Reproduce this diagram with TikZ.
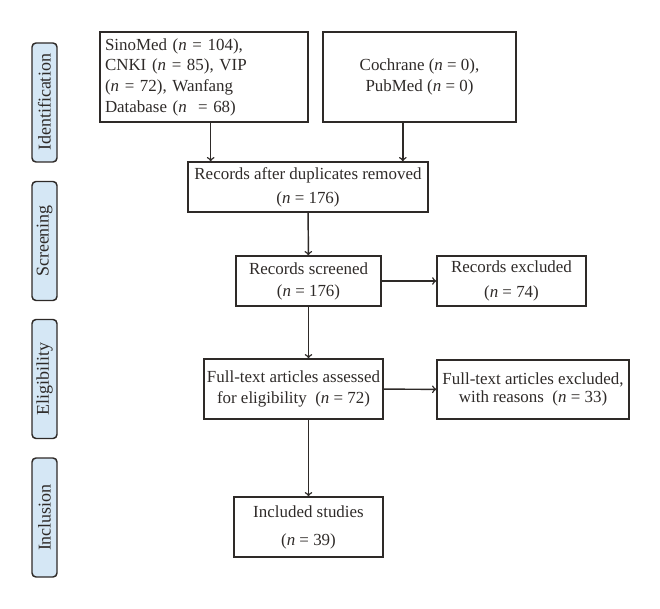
\documentclass[tikz,border=0pt]{standalone}
\usepackage{fontspec}
\setmainfont{Liberation Serif}
\usepackage{tikz}
\usetikzlibrary{arrows}

\definecolor{tabblue}{HTML}{D5E7F5}
\definecolor{linegray}{HTML}{2E2A28}

\begin{document}
\begin{tikzpicture}[x=0.75pt,y=-0.75pt,
  every node/.style={font=\fontsize{12.7}{15.5}\selectfont, text=linegray},
  box/.style={draw=linegray, line width=1.1pt, align=center, inner sep=2pt},
  stage/.style={draw=linegray, fill=tabblue, line width=1.1pt, rounded corners=3pt,
    minimum width=119*0.75pt, minimum height=25*0.75pt, rotate=90, inner sep=0pt,
    font=\fontsize{13.5}{15}\selectfont},
  flow/.style={->, line width=1.1pt, draw=linegray}]
\useasboundingbox (0,0) rectangle (660,609);

% stage tabs
\node[stage] (ident) at (44.5,102.5) {Identification};
\node[stage] (screen) at (44.5,241) {Screening};
\node[stage] (elig) at (44.5,379) {Eligibility};
\node[stage] (inclu) at (44.5,517.5) {Inclusion};

% boxes
\node[box, align=left, text width=198*0.75pt, inner xsep=3.75pt, minimum height=90*0.75pt] (src) at (204,77)
  {SinoMed (\textit{n} = 104),\\CNKI (\textit{n} = 85), VIP\\(\textit{n} = 72), Wanfang\\Database (\textit{n} \ = 68)};
\node[box, minimum width=193*0.75pt, minimum height=90*0.75pt] (coch) at (419.5,77)
  {Cochrane (\textit{n} = 0),\\PubMed (\textit{n} = 0)};
\node[box, minimum width=240*0.75pt, minimum height=50*0.75pt] (dup) at (308,187)
  {Records after duplicates removed\\[2.5pt](\textit{n} = 176)};
\node[box, minimum width=145*0.75pt, minimum height=50*0.75pt] (scr) at (308.5,281)
  {Records screened\\[1pt](\textit{n} = 176)};
\node[box, minimum width=149*0.75pt, minimum height=50*0.75pt] (exc) at (511.5,281)
  {Records excluded\\[3pt](\textit{n} = 74)};
\node[box, minimum width=179*0.75pt, minimum height=60*0.75pt] (full) at (293.5,389)
  {Full-text articles assessed\\for eligibility \ (\textit{n} = 72)};
\node[box, minimum width=192*0.75pt, minimum height=59*0.75pt] (fexc) at (533,389.5)
  {Full-text articles excluded,\\[-2.5pt]with reasons \ (\textit{n} = 33)};
\node[box, minimum width=149*0.75pt, minimum height=60*0.75pt] (incl) at (308.5,527)
  {Included studies\\[5.5pt](\textit{n} = 39)};

% arrows
\draw[flow] ([xshift=5]src.south) -- ([xshift=5]src.south |- dup.north);
\draw[flow] ([xshift=-12.5]coch.south) -- ([xshift=-12.5]coch.south |- dup.north);
\draw[flow] (dup) -- (scr);
\draw[flow] (scr) -- (exc);
\draw[flow] (scr) -- (scr |- full.north);
\draw[flow] (full) -- (fexc);
\draw[flow] (incl |- full.south) -- (incl);
\end{tikzpicture}
\end{document}
